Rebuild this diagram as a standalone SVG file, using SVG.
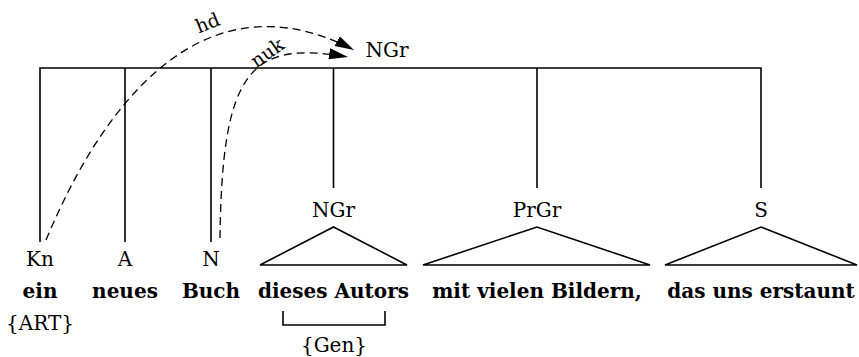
<svg xmlns="http://www.w3.org/2000/svg" width="859" height="357" viewBox="0 0 859 357">
<defs>
<style>
.ln{stroke:#000;stroke-width:1.6;fill:none}
.dash{stroke:#000;stroke-width:1.3;fill:none;stroke-dasharray:8 5}
.lab{font-family:"DejaVu Serif","Liberation Serif",serif;font-size:20px;fill:#000;text-anchor:middle}
.wd{font-family:"DejaVu Serif","Liberation Serif",serif;font-size:20px;font-weight:bold;fill:#000;text-anchor:middle}
.arc{font-family:"DejaVu Serif","Liberation Serif",serif;font-size:19px;fill:#000;text-anchor:middle}
</style>
<marker id="ah" markerUnits="userSpaceOnUse" markerWidth="20" markerHeight="12" refX="19" refY="5.5" orient="auto" viewBox="0 0 20 11">
<path d="M0,0 L19,5.5 L0,11 Z" fill="#000"/>
</marker>
</defs>
<g id="tree">
<path class="ln" d="M40,242 V68 H761 V188 M125,68 V242 M211,68 V242 M333.5,68 V188 M537,68 V188"/>
</g>
<g id="root"><text class="lab" x="387" y="57">NGr</text></g>
<g id="kn"><text class="lab" x="40" y="266">Kn</text><text class="wd" x="40" y="298">ein</text><text class="lab" x="40" y="330">{ART}</text></g>
<g id="a"><text class="lab" x="125" y="266">A</text><text class="wd" x="125" y="298">neues</text></g>
<g id="n"><text class="lab" x="211" y="266">N</text><text class="wd" x="211" y="298">Buch</text></g>
<g id="ngr"><text class="lab" x="333.5" y="217">NGr</text><path class="ln" d="M260,265 L333.5,227 L407,265 Z"/><text class="wd" x="333.5" y="298">dieses Autors</text><path class="ln" d="M283,311 V325 H385 V311"/><text class="lab" x="334" y="352">{Gen}</text></g>
<g id="prgr"><text class="lab" x="537" y="217">PrGr</text><path class="ln" d="M423,265 L537,227 L650,265 Z"/><text class="wd" x="537" y="298">mit vielen Bildern,</text></g>
<g id="s"><text class="lab" x="761" y="217">S</text><path class="ln" d="M665,265 L761,227 L857,265 Z"/><text class="wd" x="761" y="298">das uns erstaunt</text></g>
<g id="connectors">
<path class="dash" d="M46,240 C100,110 200,-30 354,50" marker-end="url(#ah)"/>
<path class="dash" d="M220,238 C222,70 250,40 348,57" marker-end="url(#ah)"/>
<text class="arc" transform="translate(210,29) rotate(-22)">hd</text>
<text class="arc" transform="translate(271,58) rotate(-35)">nuk</text>
</g>
</svg>
